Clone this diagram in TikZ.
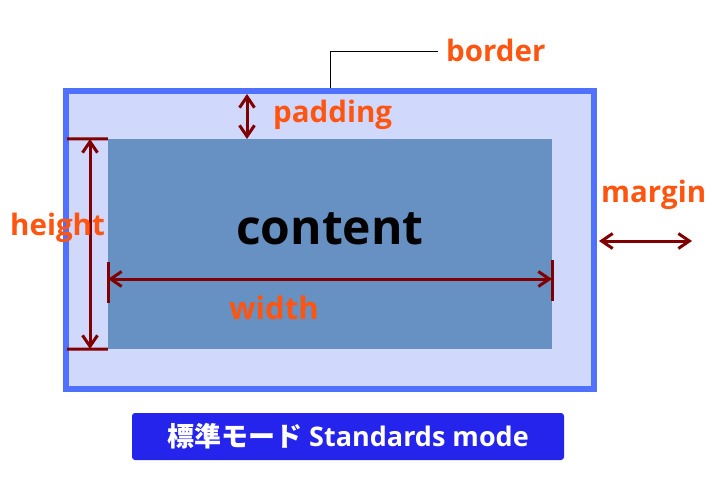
\documentclass[tikz,border=0pt]{standalone}
\usepackage{fontspec}
\setmainfont{Open Sans}
\newfontfamily\cjk{Noto Sans CJK JP}
\usetikzlibrary{arrows.meta}
\definecolor{bordercol}{RGB}{80,112,255}
\definecolor{padcol}{RGB}{208,216,252}
\definecolor{contentcol}{RGB}{102,145,194}
\definecolor{dimred}{RGB}{128,0,0}
\definecolor{labelcol}{RGB}{255,85,17}
\definecolor{badgecol}{RGB}{36,36,236}
\tikzset{
  barb/.tip={Straight Barb[length=11pt,width=15pt]},
  dimarrow/.style={draw=dimred, line width=3pt, barb-barb},
  dimtick/.style={draw=dimred, line width=3pt},
  lbl/.style={text=labelcol, font=\fontsize{29.5}{32}\selectfont\bfseries, anchor=base west, inner sep=0pt},
  leader/.style={draw=black, line width=1pt},
}
\begin{document}
\begin{tikzpicture}[x=1pt,y=-1pt]
\useasboundingbox (0,0) rectangle (712,484);
% boxes
\node[name=borderbox, draw=bordercol, fill=padcol, line width=6pt, minimum width=528pt, minimum height=298pt, inner sep=0pt] at (330,240) {};
\node[name=contentbox, fill=contentcol, minimum width=444pt, minimum height=210pt, inner sep=0pt] at (330,244) {};
\node[name=contenttext, anchor=base, inner sep=0pt, font=\fontsize{48}{52}\selectfont\bfseries] at (330,244) {content};
% coordinates
\coordinate (ht) at (90,139);
\coordinate (hb) at (90,349);
\coordinate (httl) at (67,139);
\coordinate (hbtl) at (67,349);
\coordinate (wl) at (108,279);
\coordinate (wr) at (552,279);
\coordinate (wlt) at (108,262);
\coordinate (wlb) at (108,303);
\coordinate (wrt) at (552,260);
\coordinate (wrb) at (552,301);
\coordinate (pt) at (247,94);
\coordinate (pb) at (247,139);
\coordinate (ml) at (599,241);
\coordinate (mr) at (692,241);
\coordinate (bl0) at (330,88);
\coordinate (bl1) at (330,52);
\coordinate (bl2) at (438,52);
% dimension arrows
\draw[dimtick] (httl) -- (contentbox.north west);
\draw[dimtick] (hbtl) -- (contentbox.south west);
\draw[dimarrow] (ht) -- (hb);
\draw[dimtick] (wlt) -- (wlb);
\draw[dimtick] (wrt) -- (wrb);
\draw[dimarrow] (wl) -- (wr);
\draw[dimarrow] (pt) -- (pb);
\draw[dimarrow] (ml) -- (mr);
\draw[leader] (bl0) -- (bl1) -- (bl2);
% labels
\node[lbl, name=borderlbl] at (446,62) {border};
\node[lbl, name=paddinglbl] at (273,123) {padding};
\node[lbl, name=heightlbl] at (10,235) {height};
\node[lbl, name=marginlbl] at (601,202) {margin};
\node[lbl, name=widthlbl, font=\fontsize{31}{34}\selectfont\bfseries] at (229,319) {width};
% badge
\node[name=badge, fill=badgecol, rounded corners=3pt, minimum width=432pt, minimum height=47pt, inner sep=0pt, text=white, font=\fontsize{27}{30}\selectfont\bfseries] at (348,436.5) {{\cjk 標準モード} Standards mode};
\end{tikzpicture}
\end{document}
